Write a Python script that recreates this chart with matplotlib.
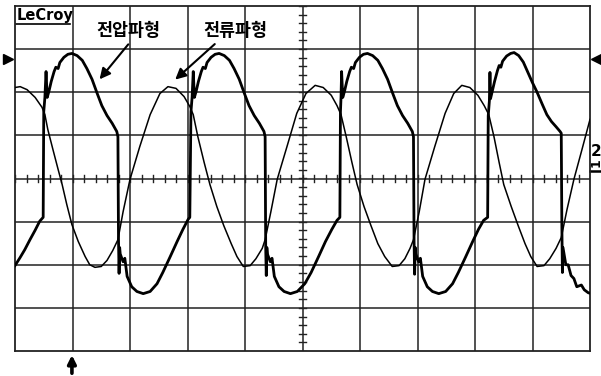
import matplotlib
matplotlib.use('Agg')
import matplotlib.pyplot as plt
import numpy as np

plt.rcParams['font.family'] = ['DejaVu Sans', 'Noto Sans CJK KR']

# Screen in divisions: 10 horizontal, 8 vertical (centre = 0)
n_xdiv = 10
n_ydiv = 8

# Voltage trace (thick) in divisions
volt_t = [0.00, 0.09, 0.17, 0.26, 0.35, 0.43, 0.49,
          0.50, 0.52, 0.54, 0.56, 0.59, 0.63, 0.68, 0.71, 0.75, 0.78, 0.85, 0.92, 0.99,
          1.08, 1.17, 1.25, 1.34, 1.43, 1.51, 1.60, 1.69, 1.77, 1.79,
          1.80, 1.81, 1.82, 1.83, 1.88, 1.91, 1.95, 2.03, 2.12, 2.23,
          2.35, 2.47, 2.57, 2.70, 2.82, 2.92, 3.01, 3.04,
          3.06, 3.08, 3.10, 3.12, 3.15, 3.19, 3.24, 3.27, 3.31, 3.34, 3.41, 3.48, 3.55,
          3.64, 3.73, 3.81, 3.90, 3.99, 4.07, 4.16, 4.25, 4.33, 4.35,
          4.36, 4.37, 4.38, 4.39, 4.44, 4.47, 4.51, 4.59, 4.68, 4.79,
          4.91, 5.04, 5.15, 5.28, 5.40, 5.51, 5.60, 5.65,
          5.66, 5.67, 5.68, 5.70, 5.73, 5.77, 5.82, 5.85, 5.89, 5.92, 5.99, 6.06, 6.13,
          6.22, 6.31, 6.39, 6.48, 6.57, 6.65, 6.74, 6.83, 6.91, 6.93,
          6.94, 6.95, 6.96, 6.97, 7.02, 7.05, 7.09, 7.17, 7.26, 7.37,
          7.49, 7.61, 7.71, 7.84, 7.96, 8.06, 8.15, 8.22,
          8.23, 8.25, 8.26, 8.27, 8.30, 8.34, 8.39, 8.42, 8.45, 8.48, 8.55, 8.62, 8.68,
          8.76, 8.84, 8.92, 9.00, 9.08, 9.17, 9.25, 9.33, 9.41, 9.48, 9.50,
          9.51, 9.52, 9.53, 9.58, 9.62, 9.67, 9.72, 9.77, 9.85, 9.90, 9.97, 10.00]
volt_v = [-2.02, -1.83, -1.65, -1.42, -1.20, -0.99, -0.90,
          1.55, 1.88, 2.48, 1.88, 2.02, 2.25, 2.48, 2.58, 2.55, 2.69, 2.81, 2.88, 2.90,
          2.85, 2.74, 2.55, 2.30, 1.97, 1.69, 1.46, 1.28, 1.09, 0.97,
          -1.42, -2.20, -1.60, -1.75, -1.93, -1.85, -2.27, -2.51, -2.62, -2.67,
          -2.62, -2.44, -2.18, -1.81, -1.46, -1.18, -0.95, -0.90,
          1.55, 1.88, 2.48, 1.88, 2.02, 2.25, 2.48, 2.58, 2.55, 2.69, 2.81, 2.88, 2.90,
          2.85, 2.74, 2.55, 2.30, 1.97, 1.69, 1.46, 1.28, 1.09, 0.97,
          -1.60, -2.25, -1.60, -1.75, -1.93, -1.85, -2.27, -2.51, -2.62, -2.67,
          -2.62, -2.44, -2.18, -1.81, -1.46, -1.18, -0.97, -0.90,
          1.55, 1.88, 2.48, 1.88, 2.02, 2.25, 2.48, 2.58, 2.55, 2.69, 2.81, 2.88, 2.90,
          2.85, 2.74, 2.55, 2.30, 1.97, 1.69, 1.46, 1.28, 1.09, 0.97,
          -1.42, -2.22, -1.60, -1.75, -1.93, -1.85, -2.27, -2.51, -2.62, -2.67,
          -2.62, -2.44, -2.18, -1.81, -1.46, -1.18, -0.97, -0.90,
          1.45, 1.80, 2.46, 1.85, 2.02, 2.25, 2.50, 2.62, 2.58, 2.72, 2.84, 2.90, 2.92,
          2.85, 2.70, 2.46, 2.22, 2.00, 1.72, 1.48, 1.32, 1.20, 1.09, 1.05,
          -1.00, -2.18, -1.60, -2.00, -2.00, -2.25, -2.32, -2.51, -2.47, -2.58, -2.65, -2.66]

# Current trace (thin)
curr_t = [0.00, 0.09, 0.21, 0.35, 0.47, 0.52, 0.57, 0.66, 0.75, 0.82, 0.90, 0.99,
          1.10, 1.22, 1.30, 1.39, 1.50, 1.60, 1.70, 1.79, 1.88, 2.00, 2.17, 2.35,
          2.52, 2.66, 2.80, 2.94, 3.04, 3.10, 3.18, 3.29, 3.39, 3.51, 3.63, 3.76,
          3.86, 3.97, 4.09, 4.19, 4.30, 4.35, 4.45, 4.56, 4.73, 4.90, 5.06, 5.22,
          5.36, 5.50, 5.60, 5.67, 5.76, 5.86, 5.95, 6.07, 6.19, 6.31, 6.43, 6.56,
          6.68, 6.78, 6.87, 6.93, 7.03, 7.13, 7.30, 7.48, 7.63, 7.77, 7.91, 8.05,
          8.16, 8.24, 8.33, 8.42, 8.50, 8.63, 8.75, 8.87, 8.97, 9.08, 9.20, 9.30,
          9.41, 9.50, 9.60, 9.72, 9.86, 10.00]
curr_v = [2.11, 2.13, 2.06, 1.88, 1.65, 1.48, 1.14, 0.67, 0.21, -0.14, -0.60, -1.07,
          -1.46, -1.81, -2.00, -2.06, -2.04, -1.90, -1.67, -1.42, -0.77, -0.02, 0.74, 1.48,
          1.97, 2.13, 2.09, 1.90, 1.67, 1.48, 0.97, 0.37, -0.14, -0.65, -1.09, -1.51,
          -1.81, -2.04, -2.02, -1.86, -1.62, -1.42, -0.77, -0.02, 0.74, 1.51, 1.97, 2.16,
          2.11, 1.93, 1.69, 1.48, 0.97, 0.37, -0.14, -0.65, -1.09, -1.51, -1.81, -2.04,
          -2.02, -1.86, -1.62, -1.42, -0.77, -0.02, 0.74, 1.51, 1.97, 2.16, 2.11, 1.93,
          1.69, 1.48, 0.97, 0.37, -0.14, -0.65, -1.09, -1.51, -1.81, -2.04, -2.02, -1.86,
          -1.62, -1.37, -0.72, -0.02, 0.67, 1.37]

W, H = 601, 376
fig = plt.figure(figsize=(W / 100, H / 100), dpi=100)
fig.patch.set_facecolor('white')
ax = fig.add_axes([15 / W, 25 / H, 575 / W, 345 / H])
ax.set_xlim(0, n_xdiv)
ax.set_ylim(-n_ydiv / 2, n_ydiv / 2)
ax.set_xticks([])
ax.set_yticks([])
for s in ax.spines.values():
    s.set_color('#222222')
    s.set_linewidth(1.3)

# graticule
for i in range(1, n_xdiv):
    ax.axvline(i, color='#222222', lw=1.1, zorder=1)
for j in range(-n_ydiv // 2 + 1, n_ydiv // 2):
    ax.axhline(j, color='#222222', lw=1.1, zorder=1)

# minor ticks on the centre lines
for x in np.arange(0, n_xdiv + 0.01, 0.2):
    ax.plot([x, x], [-0.08, 0.08], color='#222222', lw=1.0, zorder=1)
for y in np.arange(-n_ydiv / 2, n_ydiv / 2 + 0.01, 0.2):
    ax.plot([n_xdiv / 2 - 0.06, n_xdiv / 2 + 0.06], [y, y], color='#222222', lw=1.0, zorder=1)

# traces
ax.plot(curr_t, curr_v, color='black', lw=1.1, zorder=3)
ax.plot(volt_t, volt_v, color='black', lw=2.0, zorder=4, solid_joinstyle='round')

# LeCroy logo
ax.text(0.02, 3.68, 'LeCroy', fontsize=10.5, fontweight='bold', va='baseline', ha='left')
ax.plot([0.02, 0.96], [3.59, 3.59], color='black', lw=1.2)

# labels with arrows
ax.text(1.98, 3.42, '전압파형', family=['Noto Sans CJK KR'], fontsize=12.5,
        fontweight='bold', ha='center', va='center')
ax.text(3.83, 3.42, '전류파형', family=['Noto Sans CJK KR'], fontsize=12.5,
        fontweight='bold', ha='center', va='center')
ax.annotate('', xy=(1.44, 2.25), xytext=(2.0, 3.16),
            arrowprops=dict(arrowstyle='-|>', lw=1.5, color='black', mutation_scale=16))
ax.annotate('', xy=(2.75, 2.25), xytext=(3.51, 3.16),
            arrowprops=dict(arrowstyle='-|>', lw=1.5, color='black', mutation_scale=16))

# trace markers outside the screen
ax.plot([-0.12], [2.76], marker='>', color='black', ms=7, clip_on=False)
ax.plot([10.10], [2.76], marker='<', color='black', ms=7, clip_on=False)
ax.text(10.10, 0.62, '2', fontsize=11, fontweight='bold', ha='center', va='center', clip_on=False)
ax.text(10.10, 0.36, '1', fontsize=9, fontweight='bold', rotation=90, ha='center', va='center', clip_on=False)
ax.plot([10.0, 10.2], [0.17, 0.17], color='black', lw=1.8, clip_on=False)

# trigger arrow below the screen
ax.annotate('', xy=(0.99, -4.03), xytext=(0.99, -4.58), annotation_clip=False,
            arrowprops=dict(arrowstyle='-|>', lw=2.6, color='black', mutation_scale=12))

fig.savefig('out.png', dpi=100)
